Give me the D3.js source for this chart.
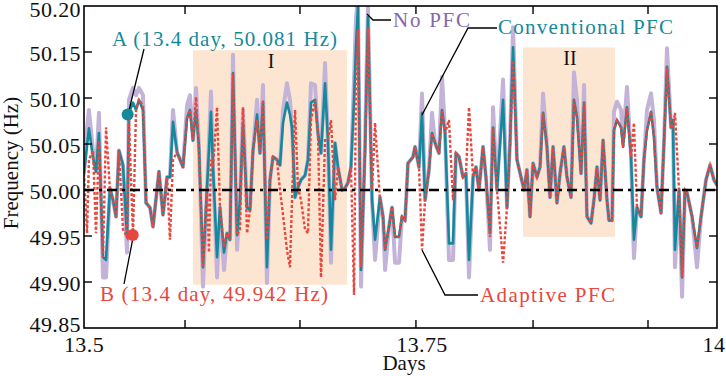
<!DOCTYPE html>
<html><head><meta charset="utf-8">
<script src="https://cdn.jsdelivr.net/npm/d3@7"></script>
<style>html,body{margin:0;padding:0;background:#fff;}svg{display:block;}text{font-family:"Liberation Serif","Times New Roman",serif;}</style>
</head><body>
<svg id="chart" width="726" height="376"></svg>
<script>
const days = [13.5000,13.5024,13.5039,13.5071,13.5095,13.5118,13.5150,13.5174,13.5205,13.5229,13.5253,13.5276,13.5308,13.5340,13.5355,13.5387,13.5411,13.5434,13.5466,13.5490,13.5521,13.5545,13.5592,13.5624,13.5656,13.5679,13.5703,13.5735,13.5782,13.5814,13.5837,13.5861,13.5885,13.5908,13.5940,13.5972,13.5987,13.6003,13.6019,13.6051,13.6074,13.6106,13.6130,13.6153,13.6177,13.6209,13.6232,13.6256,13.6288,13.6311,13.6335,13.6367,13.6390,13.6414,13.6445,13.6469,13.6493,13.6524,13.6548,13.6572,13.6603,13.6627,13.6643,13.6667,13.6690,13.6714,13.6746,13.6769,13.6793,13.6825,13.6848,13.6872,13.6904,13.6927,13.6951,13.6983,13.7006,13.7038,13.7062,13.7085,13.7109,13.7133,13.7148,13.7164,13.7188,13.7220,13.7243,13.7275,13.7299,13.7338,13.7362,13.7378,13.7409,13.7433,13.7457,13.7488,13.7512,13.7536,13.7559,13.7599,13.7615,13.7646,13.7670,13.7694,13.7725,13.7749,13.7773,13.7804,13.7828,13.7852,13.7883,13.7915,13.7938,13.7962,13.7994,13.8017,13.8041,13.8073,13.8096,13.8120,13.8152,13.8175,13.8207,13.8231,13.8262,13.8310,13.8341,13.8365,13.8389,13.8420,13.8452,13.8476,13.8499,13.8523,13.8547,13.8578,13.8602,13.8626,13.8657,13.8681,13.8705,13.8736,13.8760,13.8791,13.8815,13.8847,13.8870,13.8894,13.8926,13.8950,13.8973,13.9005,13.9028,13.9052,13.9076,13.9100,13.9131,13.9147,13.9171,13.9186,13.9210,13.9242,13.9258,13.9289,13.9321,13.9344,13.9368,13.9400,13.9423,13.9447,13.9479,13.9502,13.9526,13.9558,13.9581,13.9605,13.9637,13.9652,13.9668,13.9700,13.9724,13.9747,13.9763,13.9803,13.9842,13.9874,13.9913,13.9945,13.9976,14.0000];

const conventionalPFC = [50.018,50.048,50.067,50.035,50.020,50.062,49.927,49.924,50.002,49.989,49.971,50.043,50.027,49.949,50.084,50.095,50.087,50.098,50.087,49.986,49.981,49.960,50.020,49.973,50.014,50.014,50.074,50.041,50.025,50.078,50.087,50.054,50.087,50.047,49.916,50.003,50.043,50.085,50.025,49.927,49.981,49.932,49.953,49.946,50.127,49.951,49.989,50.073,49.981,49.978,50.043,50.082,50.040,50.095,49.916,50.011,50.036,50.033,50.027,50.073,50.095,50.082,50.068,49.992,50.003,50.011,50.016,50.033,50.095,50.098,50.062,50.040,50.116,50.054,49.935,50.051,50.025,50.000,50.002,50.008,50.025,50.098,50.155,50.199,49.913,50.043,50.188,49.989,49.946,49.992,49.971,49.935,49.960,49.981,49.949,49.949,49.971,49.967,50.029,50.036,50.047,50.025,50.084,49.989,50.022,50.062,50.051,50.040,50.087,50.062,49.942,49.942,50.040,50.036,50.014,50.018,49.924,50.014,50.025,50.000,50.047,50.014,49.953,50.068,50.000,50.098,49.981,50.051,50.155,50.033,50.014,50.000,50.022,49.971,50.029,50.014,50.025,50.084,50.047,49.992,50.047,49.986,50.018,50.047,50.014,49.992,50.098,50.079,50.018,50.095,49.971,49.964,49.989,50.025,49.989,50.054,49.989,49.967,49.967,50.065,50.076,50.068,50.047,50.090,50.036,49.946,49.981,49.971,50.033,50.065,50.085,50.058,50.003,49.975,50.051,50.134,50.068,50.076,49.935,50.000,49.905,50.000,49.997,49.971,49.937,49.971,50.011,50.027,50.011,50.005];

const noPFC = [50.018,50.067,50.087,50.043,50.020,50.084,49.905,49.905,50.002,49.989,49.971,50.043,50.027,49.932,50.098,50.111,50.103,50.111,50.103,49.986,49.981,49.960,50.020,49.973,50.014,50.014,50.087,50.041,50.025,50.092,50.103,50.054,50.111,50.047,49.895,50.003,50.054,50.107,50.025,49.905,49.981,49.913,49.953,49.946,50.147,49.935,49.989,50.087,49.981,49.978,50.043,50.098,50.040,50.114,49.899,50.011,50.036,50.033,50.027,50.087,50.116,50.098,50.068,49.992,50.003,50.011,50.016,50.033,50.116,50.114,50.062,50.040,50.138,50.054,49.921,50.051,50.025,50.000,50.002,50.008,50.025,50.120,50.185,50.210,49.895,50.054,50.201,49.989,49.924,49.992,49.971,49.913,49.960,49.981,49.921,49.921,49.971,49.967,50.029,50.036,50.047,50.025,50.105,49.989,50.022,50.084,50.051,50.040,50.123,50.062,49.924,49.924,50.040,50.036,50.014,50.018,49.905,50.014,50.025,50.000,50.047,50.014,49.935,50.090,50.000,50.120,49.981,50.051,50.177,50.033,50.014,50.000,50.022,49.971,50.029,50.014,50.025,50.105,50.047,49.992,50.047,49.986,50.018,50.047,50.014,49.992,50.128,50.098,50.018,50.114,49.971,49.964,49.989,50.025,49.989,50.054,49.989,49.967,49.967,50.085,50.096,50.087,50.054,50.112,50.036,49.926,49.981,49.971,50.033,50.087,50.105,50.076,50.003,49.975,50.051,50.154,50.068,50.076,49.916,50.000,49.884,50.000,49.997,49.971,49.916,49.971,50.011,50.027,50.011,50.005];

const adaptivePFC = [50.018,49.953,50.033,50.043,49.953,50.054,49.927,50.068,50.000,49.989,49.971,50.043,49.957,49.949,50.076,49.951,50.087,50.098,50.092,49.986,49.981,49.960,50.020,49.973,50.014,49.946,50.033,50.041,50.025,50.078,50.087,50.054,50.101,50.043,49.916,50.003,49.932,50.033,50.025,50.090,49.981,49.938,49.953,49.946,50.127,49.951,49.957,50.090,49.953,49.978,50.043,50.076,50.040,50.098,49.946,50.011,50.036,50.033,50.000,49.973,49.935,49.916,49.989,50.087,50.003,49.989,49.957,49.953,50.076,50.098,50.062,49.905,50.054,50.054,50.076,49.989,50.025,50.000,50.002,50.008,50.025,49.886,50.109,50.174,49.916,50.043,50.177,50.000,50.073,49.989,49.971,49.935,49.960,49.981,49.949,49.949,49.971,49.967,50.029,50.036,50.047,50.025,49.935,49.989,50.022,50.062,50.051,50.040,50.087,50.062,50.076,49.989,50.040,50.036,50.014,50.018,50.090,50.014,50.025,50.000,50.047,50.014,49.949,50.068,50.000,49.921,49.981,50.051,50.141,50.033,50.014,50.000,50.022,49.971,50.029,50.014,50.025,50.084,50.047,49.992,50.047,49.986,50.018,50.047,50.014,49.992,50.098,50.079,50.018,50.095,49.971,49.964,49.989,50.025,49.989,50.054,49.989,49.967,49.967,50.065,50.076,50.068,50.047,50.090,50.036,50.073,49.981,49.971,50.033,50.065,50.085,50.058,50.003,49.975,50.051,50.134,50.068,50.068,50.084,50.000,49.905,50.000,49.997,49.971,49.937,49.971,50.011,50.027,50.011,50.005];

const yTickValues = [50.20,50.15,50.10,50.05,50.00,49.95,49.90,49.85];
const yTickLabels = ["50.20","50.15","50.10","50.05","50.00","49.95","49.90","49.85"];
const xMinorTicks = [13.5798,13.6706,13.7622,13.8547,13.9455];
const xLabelDays = [13.5,13.767,13.9976];
const xLabelTexts = ["13.5","13.75","14"];
const regionI = {label:"I", d0:13.5861, d1:13.7077, v0:49.897, v1:50.152};
const regionII = {label:"II", d0:13.8468, d1:13.9194, v0:49.949, v1:50.155};
const pointA = {d:13.5345, v:50.082, text:"A (13.4 day, 50.081 Hz)"};
const pointB = {d:13.5385, v:49.951, text:"B (13.4 day, 49.942 Hz)"};
const seriesNames = ["No PFC","Conventional PFC","Adaptive PFC"];

const C_NO = "#c4b3d9", C_NO_TXT = "#8768ac", C_CONV = "#14899b", C_AD = "#e8473d", C_REG = "#fde6d1";

const svg = d3.select("#chart");
const L = 84, R = 717, T = 6, B = 328;
const x = d3.scaleLinear().domain([13.5, 14]).range([L, R]);
const y = d3.scaleLinear().domain([49.85, 50.20]).range([B, T]);

svg.append("defs").append("clipPath").attr("id","clip")
  .append("rect").attr("x",L).attr("y",T).attr("width",R-L).attr("height",B-T);

// shaded regions
[regionI, regionII].forEach(r => {
  svg.append("rect").attr("x", x(r.d0)).attr("y", y(r.v1))
    .attr("width", x(r.d1)-x(r.d0)).attr("height", y(r.v0)-y(r.v1))
    .attr("fill", C_REG);
});

const g = svg.append("g").attr("clip-path","url(#clip)");
const mk = arr => d3.line().x((d,i)=>x(days[i])).y(d=>y(d))(arr);

g.append("path").attr("d", mk(noPFC)).attr("fill","none").attr("stroke",C_NO)
  .attr("stroke-width",4).attr("stroke-linejoin","round");
g.append("path").attr("d", mk(conventionalPFC)).attr("fill","none").attr("stroke",C_CONV)
  .attr("stroke-width",2.6).attr("stroke-linejoin","round");
g.append("path").attr("d", mk(adaptivePFC)).attr("fill","none").attr("stroke",C_AD)
  .attr("stroke-width",2.4).attr("stroke-dasharray","3,2");

// zero line
svg.append("line").attr("x1",L).attr("x2",R).attr("y1",y(50)).attr("y2",y(50))
  .attr("stroke","#000").attr("stroke-width",2.5).attr("stroke-dasharray","10,5,3,5");

// frame
svg.append("rect").attr("x",L).attr("y",T).attr("width",R-L).attr("height",B-T)
  .attr("fill","none").attr("stroke","#000").attr("stroke-width",1.6);

// ticks
const tk = 8;
yTickValues.slice(1,-1).forEach(v => {
  svg.append("line").attr("x1",L).attr("x2",L+tk).attr("y1",y(v)).attr("y2",y(v)).attr("stroke","#000").attr("stroke-width",1.4);
  svg.append("line").attr("x1",R).attr("x2",R-tk).attr("y1",y(v)).attr("y2",y(v)).attr("stroke","#000").attr("stroke-width",1.4);
});
xMinorTicks.forEach(d => {
  svg.append("line").attr("x1",x(d)).attr("x2",x(d)).attr("y1",T).attr("y2",T+tk).attr("stroke","#000").attr("stroke-width",1.4);
  svg.append("line").attr("x1",x(d)).attr("x2",x(d)).attr("y1",B).attr("y2",B-tk).attr("stroke","#000").attr("stroke-width",1.4);
});

// tick labels
yTickValues.forEach((v,i) => {
  const off = (i === 0) ? 11 : (i === yTickValues.length-1 ? 4 : 9);
  svg.append("text").attr("x",81).attr("y",y(v)+off).attr("text-anchor","end")
    .attr("font-size",22).attr("fill","#111").attr("letter-spacing","0.4").text(yTickLabels[i]);
});
xLabelDays.forEach((d,i) => {
  svg.append("text").attr("x",x(d)).attr("y",352).attr("text-anchor","middle")
    .attr("font-size",22).attr("fill","#111").attr("letter-spacing","0.4").text(xLabelTexts[i]);
});
svg.append("text").attr("x",404).attr("y",370).attr("text-anchor","middle")
  .attr("font-size",21).attr("fill","#111").text("Days");
svg.append("text").attr("transform","translate(18,163) rotate(-90)").attr("text-anchor","middle")
  .attr("font-size",21).attr("fill","#111").text("Frequency (Hz)");

// region labels
[regionI, regionII].forEach(r => {
  svg.append("text").attr("x",(x(r.d0)+x(r.d1))/2 + 1).attr("y",y(r.v1)+18).attr("text-anchor","middle")
    .attr("font-size",20).attr("fill","#111").text(r.label);
});

// annotation A & B
function leader(pts){ svg.append("path").attr("d", d3.line()(pts)).attr("fill","none").attr("stroke","#000").attr("stroke-width",1.3); }
leader([[x(pointA.d)+1, y(pointA.v)-3],[144,49]]);
leader([[x(pointB.d), y(pointB.v)+4],[124,284]]);
svg.append("circle").attr("cx",x(pointA.d)).attr("cy",y(pointA.v)).attr("r",6).attr("fill",C_CONV);
svg.append("circle").attr("cx",x(pointB.d)).attr("cy",y(pointB.v)).attr("r",6).attr("fill",C_AD);
svg.append("text").attr("x",112).attr("y",46).attr("font-size",21).attr("fill",C_CONV)
  .attr("textLength",225).attr("lengthAdjust","spacing").text(pointA.text);
svg.append("text").attr("x",100).attr("y",301).attr("font-size",21).attr("fill",C_AD)
  .attr("textLength",228).attr("lengthAdjust","spacing").text(pointB.text);

// series labels
leader([[367,14],[373,20],[391,20]]);
svg.append("text").attr("x",393).attr("y",27).attr("font-size",21).attr("fill",C_NO_TXT)
  .attr("textLength",77).attr("lengthAdjust","spacing").text(seriesNames[0]);
leader([[497,28],[468,28],[422,115]]);
svg.append("text").attr("x",498).attr("y",34).attr("font-size",21).attr("fill",C_CONV)
  .attr("textLength",175).attr("lengthAdjust","spacing").text(seriesNames[1]);
leader([[422,250],[445,295],[478,295]]);
svg.append("text").attr("x",480).attr("y",302).attr("font-size",21).attr("fill",C_AD)
  .attr("textLength",135).attr("lengthAdjust","spacing").text(seriesNames[2]);
</script>
</body></html>
